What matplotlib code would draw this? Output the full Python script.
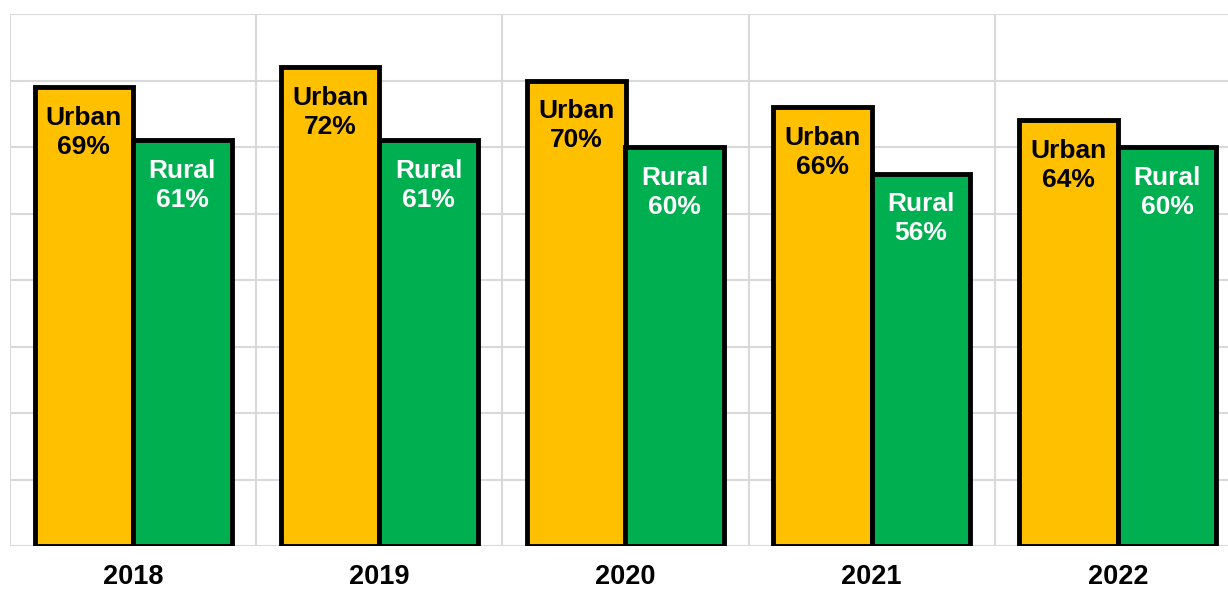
import matplotlib
matplotlib.use("Agg")
import matplotlib.pyplot as plt
import numpy as np

years = ["2018", "2019", "2020", "2021", "2022"]
urban = [69, 72, 70, 66, 64]
rural = [61, 61, 60, 56, 60]
series_names = ["Urban", "Rural"]

plt.rcParams['font.family'] = ['Liberation Sans', 'DejaVu Sans']

W, H = 1228, 589
fig = plt.figure(figsize=(W/100, H/100), dpi=100)
left_px, right_px, top_px, bot_px = 10, 1241, 14, 546
ax = fig.add_axes([left_px/W, (H-bot_px)/H, (right_px-left_px)/W, (bot_px-top_px)/H])

x = np.arange(len(years))
w = 0.4
edge_lw = 3.5
b1 = ax.bar(x - w/2, urban, w, color="#FFC000", edgecolor="black", linewidth=edge_lw, zorder=3)
b2 = ax.bar(x + w/2, rural, w, color="#00B050", edgecolor="black", linewidth=edge_lw, zorder=3)

for bars, vals, name, tc in [(b1, urban, series_names[0], "black"), (b2, rural, series_names[1], "white")]:
    for rect, v in zip(bars, vals):
        ax.annotate(f"{name}\n{v}%", (rect.get_x() + rect.get_width()/2, v),
                    xytext=(0, -13.5), textcoords="offset points",
                    ha="center", va="top", fontsize=19, fontweight="bold",
                    color=tc, linespacing=1.27, zorder=4)

ax.set_xlim(-0.5, len(years) - 0.5)
ax.set_ylim(0, 80)
ax.set_yticks(np.arange(0, 81, 10))
ax.set_yticklabels([])
ax.set_xticks(x)
ax.set_xticklabels(years, fontsize=19.5, fontweight="bold")
ax.set_xticks(np.arange(-0.5, len(years), 1), minor=True)
ax.tick_params(axis="both", which="both", length=0)
ax.tick_params(axis="x", pad=13)
ax.grid(axis="y", which="major", color="#D9D9D9", linewidth=1.5, zorder=0)
ax.grid(axis="x", which="minor", color="#D9D9D9", linewidth=1.5, zorder=0)
for s in ax.spines.values():
    s.set_visible(False)

fig.savefig("out.png", dpi=100)
